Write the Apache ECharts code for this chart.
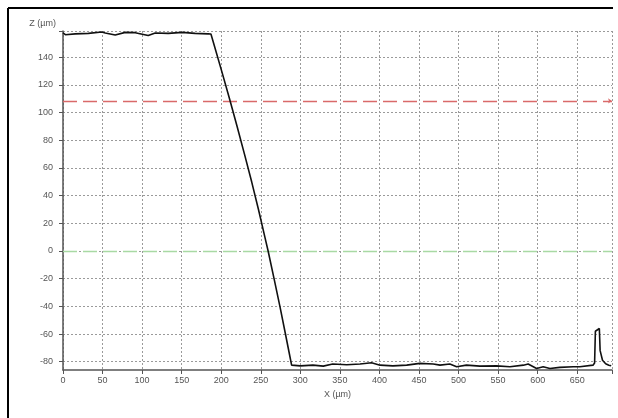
<!DOCTYPE html>
<html>
<head>
<meta charset="utf-8">
<script src="https://cdn.jsdelivr.net/npm/echarts@6/dist/echarts.min.js"></script>
<style>html,body{margin:0;padding:0;background:#fff}#c{width:618px;height:418px}</style>
</head>
<body>
<div id="c"></div>
<script>
// Profile data (X in µm, Z in µm)
const xValues = [0, 3, 15.5, 32, 49, 53.4, 66, 78.7, 91.3, 107.7, 116.6, 133, 150.7, 167, 183.5, 187,
  190.5, 200.6, 210.5, 220.1, 229.4, 238.5, 247.1, 255.2, 259.3, 266.8, 274.2, 281.2, 286.4, 289,
  300, 316, 329, 341, 358.7, 375.5, 390, 400.8, 417, 434.5, 451, 468, 476.6, 489, 497.6, 510, 527, 548,
  565, 582, 588, 598.7, 607, 615.5, 628, 645, 653.4, 670, 672, 673, 674.5, 678, 679, 682, 686, 690, 693];
const zValues = [157.6, 156.3, 156.9, 157.3, 158.3, 157.6, 156.1, 158, 157.8, 155.8, 157.6, 157.3, 158, 157.3, 156.9, 156.8,
  150, 130, 110, 90, 70, 50, 30, 10, 0, -20, -40, -60, -75, -82.5,
  -83, -82.5, -83.2, -81.7, -82.2, -81.7, -80.8, -82.5, -83, -82.5, -81.2, -81.7, -82.5, -81.7, -83.7, -82.5, -83.2, -83,
  -83.7, -82.5, -81.7, -84.9, -83.7, -84.9, -84.1, -83.7, -83.7, -82.5, -81, -58, -57, -56, -72, -79, -81.5, -82.5, -83];
const xTickLabels = [0, 50, 100, 150, 200, 250, 300, 350, 400, 450, 500, 550, 600, 650];
const zTickLabels = [-80, -60, -40, -20, 0, 20, 40, 60, 80, 100, 120, 140];
const xRange = [0, 694];
const zRange = [-86, 159];
const upperLimit = 108.5;
const lowerLimit = 0;

const chart = echarts.init(document.getElementById('c'));
const gridLine = {show: true, lineStyle: {color: '#9a9a9a', width: 1, type: [2, 2]}};
const labelStyle = {color: '#555', fontSize: 9, fontFamily: 'Liberation Sans, Arial, sans-serif'};
chart.setOption({
  animation: false,
  backgroundColor: '#fff',
  grid: {left: 63, top: 31, right: 6, bottom: 48, containLabel: false},
  xAxis: {
    type: 'value', min: xRange[0], max: xRange[1],
    name: 'X (µm)', nameLocation: 'middle', nameGap: 20,
    nameTextStyle: labelStyle,
    axisLine: {show: true, onZero: false, lineStyle: {color: '#555', width: 1.5}},
    axisTick: {show: true, length: 4, lineStyle: {color: '#555'}, customValues: xTickLabels.concat([xRange[1]])},
    axisLabel: Object.assign({margin: 6, customValues: xTickLabels}, labelStyle),
    splitLine: gridLine
  },
  yAxis: {
    type: 'value', min: zRange[0], max: zRange[1],
    name: 'Z (µm)', nameLocation: 'end', nameGap: 3,
    nameTextStyle: Object.assign({align: 'right', padding: [0, 7, 0, 0]}, labelStyle),
    axisLine: {show: true, onZero: false, lineStyle: {color: '#555', width: 1.5}},
    axisTick: {show: true, length: 4, lineStyle: {color: '#555'}, customValues: zTickLabels.concat([zRange[1]])},
    axisLabel: Object.assign({margin: 10, customValues: zTickLabels}, labelStyle),
    splitLine: gridLine
  },
  graphic: [
    {type: 'line', shape: {x1: 8, y1: 8, x2: 8, y2: 418}, style: {stroke: '#000', lineWidth: 2}},
    {type: 'line', shape: {x1: 8, y1: 8, x2: 613, y2: 8}, style: {stroke: '#000', lineWidth: 2}}
  ],
  series: [{
    type: 'line',
    data: xValues.map((x, i) => [x, zValues[i]]),
    showSymbol: false,
    lineStyle: {color: '#111', width: 1.6},
    z: 5,
    markLine: {
      silent: true,
      symbol: ['none', 'arrow'],
      symbolSize: 4,
      label: {show: false},
      data: [
        {yAxis: upperLimit, lineStyle: {color: '#d96a6a', width: 1.3, type: [14, 6]}}
      ]
    }
  }, {
    type: 'line',
    data: [],
    markLine: {
      silent: true,
      symbol: 'none',
      label: {show: false},
      data: [
        {yAxis: lowerLimit, lineStyle: {color: '#a9d9a4', width: 1.3, type: [14, 6]}}
      ]
    }
  }]
});
</script>
</body>
</html>
